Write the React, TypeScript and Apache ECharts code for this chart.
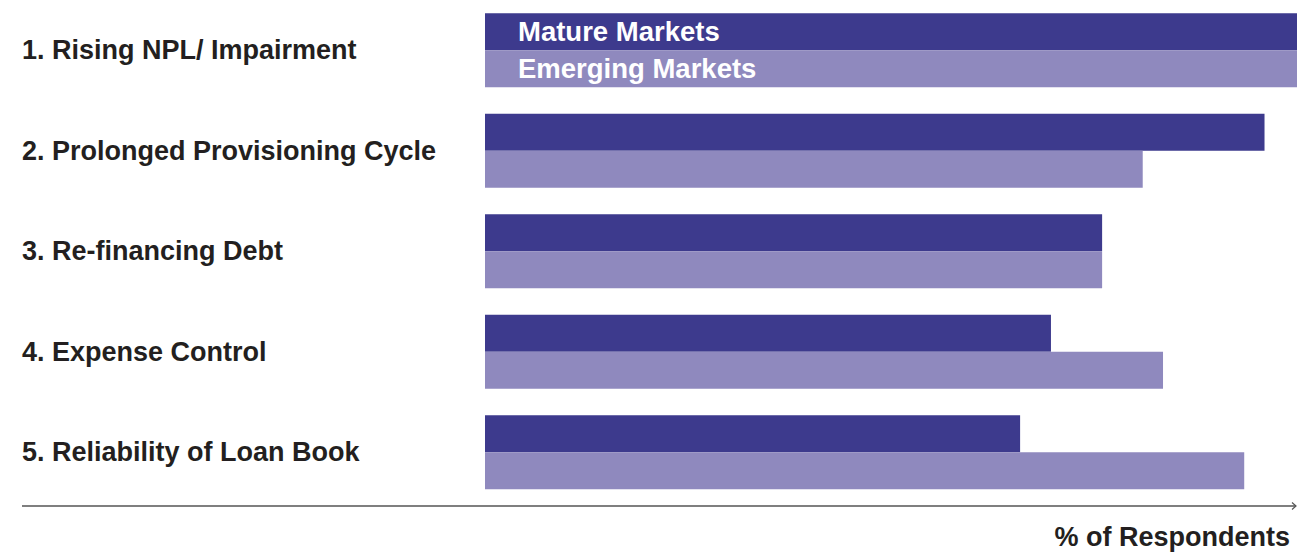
import React, { useEffect, useRef } from "react";
import * as echarts from "echarts";

const categories = [
  "1. Rising NPL/ Impairment",
  "2. Prolonged Provisioning Cycle",
  "3. Re-financing Debt",
  "4. Expense Control",
  "5. Reliability of Loan Book",
];
const seriesNames = ["Mature Markets", "Emerging Markets"];
const matureValues = [100, 96, 76, 69.7, 65.9];
const emergingValues = [100, 81, 76, 83.5, 93.5];
const axisTitle = "% of Respondents";

const FONT = "'Liberation Sans', Arial, sans-serif";
const TEXT_COLOR = "#231f20";

export default function App() {
  const ref = useRef<HTMLDivElement>(null);

  useEffect(() => {
    document.body.style.margin = "0";
    if (!ref.current) return;
    const chart = echarts.init(ref.current, undefined, { renderer: "svg" });

    const mkData = (vals: number[], name: string) =>
      vals.map((v, i) =>
        i === 0
          ? {
              value: v,
              label: {
                show: true,
                formatter: name,
                position: "insideLeft",
                distance: 33,
                color: "#ffffff",
                fontSize: 27.5,
                fontWeight: "bold",
                fontFamily: FONT,
              },
            }
          : v
      );

    chart.setOption({
      animation: false,
      grid: { left: 485, right: 0, top: 0, bottom: 49.5, containLabel: false },
      xAxis: {
        type: "value",
        min: 0,
        max: 100,
        show: false,
      },
      yAxis: {
        type: "category",
        inverse: true,
        data: categories,
        axisLine: { show: false },
        axisTick: { show: false },
        splitLine: { show: false },
        axisLabel: {
          align: "left",
          margin: 463,
          fontSize: 27,
          fontWeight: "bold",
          color: TEXT_COLOR,
          fontFamily: FONT,
          padding: [0, 0, 3, 0],
        },
      },
      series: [
        {
          name: seriesNames[0],
          type: "bar",
          data: mkData(matureValues, seriesNames[0]),
          barWidth: 37,
          barGap: "0%",
          itemStyle: { color: "#3d3a8d" },
        },
        {
          name: seriesNames[1],
          type: "bar",
          data: mkData(emergingValues, seriesNames[1]),
          barWidth: 37,
          barGap: "0%",
          itemStyle: { color: "#8f89be" },
        },
      ],
      graphic: [
        {
          type: "line",
          shape: { x1: 22, y1: 506, x2: 1296, y2: 506 },
          style: { stroke: "#555555", lineWidth: 1.5 },
        },
        {
          type: "polyline",
          shape: { points: [[1292, 502.5], [1296, 506], [1292, 509.5]] },
          style: { stroke: "#555555", lineWidth: 1.2, fill: "none" },
        },
        {
          type: "text",
          x: 1290,
          y: 537,
          style: {
            text: axisTitle,
            align: "right",
            verticalAlign: "middle",
            fontSize: 27,
            fontWeight: "bold",
            fill: TEXT_COLOR,
            fontFamily: FONT,
          },
        },
      ],
    });

    return () => chart.dispose();
  }, []);

  return <div ref={ref} style={{ width: 1297, height: 552 }} />;
}
